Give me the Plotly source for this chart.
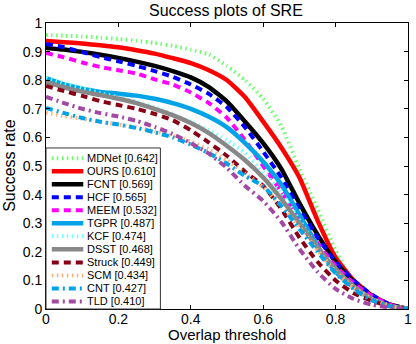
import plotly.graph_objects as go

# overlap thresholds (x) and success rates (y)
thresholds = [0, 0.05, 0.1, 0.15, 0.2, 0.25, 0.3, 0.35, 0.4, 0.45, 0.5,
              0.55, 0.6, 0.65, 0.7, 0.75, 0.8, 0.85, 0.9, 0.95, 1.0]

trackers = ["MDNet", "OURS", "FCNT", "HCF", "MEEM", "TGPR",
            "KCF", "DSST", "Struck", "SCM", "CNT", "TLD"]
auc = ["0.642", "0.610", "0.569", "0.565", "0.532", "0.487",
       "0.474", "0.468", "0.449", "0.434", "0.427", "0.410"]

mdnet = [0.958, 0.956, 0.953, 0.949, 0.944, 0.938, 0.930, 0.920, 0.907, 0.890, 0.850,
         0.800, 0.735, 0.640, 0.490, 0.350, 0.205, 0.090, 0.035, 0.010, 0.0]
ours = [0.937, 0.933, 0.928, 0.922, 0.915, 0.905, 0.893, 0.877, 0.860, 0.835, 0.800,
        0.740, 0.655, 0.565, 0.460, 0.310, 0.180, 0.100, 0.048, 0.015, 0.0]
fcnt = [0.913, 0.907, 0.899, 0.889, 0.878, 0.865, 0.850, 0.832, 0.810, 0.776, 0.725,
        0.655, 0.580, 0.490, 0.370, 0.260, 0.165, 0.095, 0.045, 0.015, 0.0]
hcf = [0.927, 0.915, 0.898, 0.881, 0.866, 0.850, 0.832, 0.812, 0.785, 0.752, 0.705,
       0.635, 0.550, 0.460, 0.350, 0.250, 0.165, 0.100, 0.050, 0.015, 0.0]
meem = [0.895, 0.880, 0.862, 0.846, 0.835, 0.823, 0.803, 0.785, 0.757, 0.720, 0.668,
        0.590, 0.500, 0.410, 0.320, 0.230, 0.150, 0.090, 0.045, 0.015, 0.0]
tgpr = [0.807, 0.785, 0.770, 0.759, 0.753, 0.746, 0.735, 0.720, 0.700, 0.672, 0.635,
        0.580, 0.515, 0.435, 0.330, 0.220, 0.130, 0.075, 0.035, 0.010, 0.0]
kcf = [0.810, 0.790, 0.772, 0.755, 0.740, 0.725, 0.705, 0.680, 0.655, 0.625, 0.590,
       0.545, 0.480, 0.405, 0.310, 0.215, 0.130, 0.070, 0.030, 0.010, 0.0]
dsst = [0.794, 0.775, 0.760, 0.748, 0.735, 0.720, 0.700, 0.678, 0.650, 0.615, 0.570,
        0.520, 0.460, 0.385, 0.300, 0.215, 0.140, 0.080, 0.035, 0.010, 0.0]
struck = [0.780, 0.762, 0.745, 0.727, 0.713, 0.700, 0.682, 0.660, 0.625, 0.582, 0.535,
          0.480, 0.430, 0.350, 0.250, 0.165, 0.100, 0.055, 0.028, 0.010, 0.0]
scm = [0.686, 0.675, 0.665, 0.655, 0.645, 0.635, 0.622, 0.605, 0.585, 0.557, 0.520,
       0.475, 0.425, 0.360, 0.285, 0.205, 0.130, 0.075, 0.035, 0.012, 0.0]
cnt = [0.703, 0.685, 0.668, 0.655, 0.645, 0.633, 0.618, 0.600, 0.575, 0.545, 0.508,
       0.465, 0.430, 0.360, 0.280, 0.200, 0.125, 0.070, 0.030, 0.010, 0.0]
tld = [0.742, 0.720, 0.700, 0.685, 0.673, 0.658, 0.637, 0.612, 0.580, 0.543, 0.493,
       0.430, 0.378, 0.305, 0.210, 0.130, 0.070, 0.035, 0.015, 0.005, 0.0]

series = [mdnet, ours, fcnt, hcf, meem, tgpr, kcf, dsst, struck, scm, cnt, tld]

# color, dash pattern, width
styles = [
    ("#66ff66", "1.5px,3.5px", 4),
    ("#ff0000", "solid", 4.5),
    ("#000000", "solid", 4.5),
    ("#0000ff", "7px,5px", 4),
    ("#ff00ff", "7px,5px", 4),
    ("#00a2e8", "solid", 4.5),
    ("#77ffff", "1.5px,3.5px", 4),
    ("#888888", "solid", 4.5),
    ("#880015", "7px,5px", 4),
    ("#ffb07a", "1.5px,3.5px", 4),
    ("#00a2e8", "7px,4px,2px,4px", 4),
    ("#a349a4", "7px,4px,2px,4px", 4),
]

FONT = "Liberation Sans, Arial, sans-serif"

fig = go.Figure()
for name, ys, (color, dash, width) in zip(trackers, series, styles):
    fig.add_trace(go.Scatter(
        x=thresholds, y=ys, mode="lines", name=name,
        line=dict(color=color, dash=dash, width=width, shape="spline", smoothing=0.5),
        showlegend=False, hoverinfo="skip",
    ))

# hand-made legend (plotly's own legend rows are too tall for 12 entries here)
top, step = 0.563, 0.0455
shapes = [dict(type="rect", xref="paper", yref="paper", x0=0, x1=0.316, y0=0, y1=top,
               fillcolor="white", line=dict(color="#333333", width=1))]
annotations = []
for i, (name, score, (color, dash, width)) in enumerate(zip(trackers, auc, styles)):
    yy = top - 0.036 - i * step
    shapes.append(dict(type="line", xref="paper", yref="paper", x0=0.016, x1=0.103,
                       y0=yy, y1=yy, line=dict(color=color, dash=dash, width=width)))
    annotations.append(dict(xref="paper", yref="paper", x=0.108, y=yy, xanchor="left",
                            yanchor="middle", showarrow=False,
                            text=f"{name} [{score}]",
                            font=dict(family=FONT, size=11, color="black")))

# axis titles
annotations.append(dict(xref="paper", yref="paper", x=0.5, y=-0.1224, xanchor="center",
                        yanchor="bottom", showarrow=False, text="Overlap threshold",
                        borderpad=0,
                        font=dict(family=FONT, size=15, color="black")))
annotations.append(dict(xref="paper", yref="paper", x=-0.103, y=0.503, xanchor="center",
                        yanchor="middle", showarrow=False, text="Success rate", textangle=-90,
                        font=dict(family=FONT, size=16, color="black")))

fig.update_layout(
    width=416, height=344,
    margin=dict(l=46, r=8, t=23, b=35),
    paper_bgcolor="white", plot_bgcolor="white",
    font=dict(family=FONT, size=14, color="black"),
    title=dict(text="Success plots of SRE", x=0.543, xanchor="center", y=0.971, yanchor="middle",
               font=dict(family=FONT, size=16, color="black")),
    shapes=shapes, annotations=annotations,
    xaxis=dict(range=[0, 1], dtick=0.2, showgrid=False, zeroline=False, automargin=False,
               showline=True, linecolor="black", linewidth=1, mirror="ticks",
               ticks="inside", ticklen=4, tickcolor="black", ticklabelstandoff=-3),
    yaxis=dict(range=[0, 1], dtick=0.1, showgrid=False, zeroline=False, automargin=False,
               showline=True, linecolor="black", linewidth=1, mirror="ticks",
               ticks="inside", ticklen=4, tickcolor="black"),
)

fig.write_html("out.html", config={"displayModeBar": False},
               post_script="document.body.style.margin = '0';")
